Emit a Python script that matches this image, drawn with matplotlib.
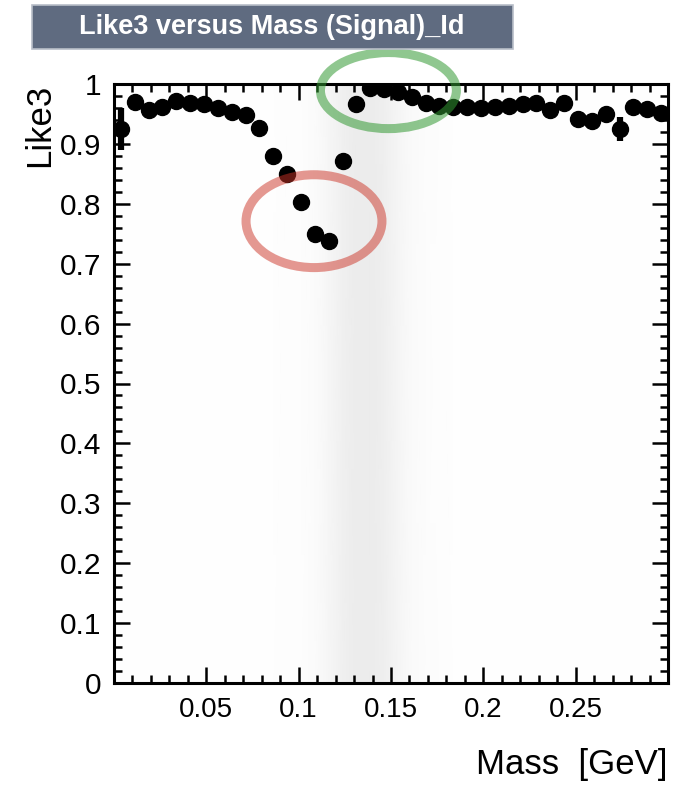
import numpy as np
import matplotlib
matplotlib.use("Agg")
import matplotlib.pyplot as plt
from matplotlib.colors import LinearSegmentedColormap
from matplotlib.patches import Ellipse, Rectangle

plt.rcParams["font.family"] = ["Liberation Sans", "DejaVu Sans"]

# profile binning: 40 mass bins between 0 and 0.3 GeV
n_bins = 40
mass_lo, mass_hi = 0.0, 0.3

# mean Like3 per mass bin (signal sample)
like3_mean = [
    0.925, 0.970, 0.957, 0.962, 0.972, 0.968, 0.966, 0.960, 0.953, 0.948,
    0.926, 0.880, 0.850, 0.803, 0.750, 0.738, 0.872, 0.967, 0.993, 0.992,
    0.986, 0.978, 0.968, 0.963, 0.961, 0.961, 0.960, 0.961, 0.963, 0.966,
    0.969, 0.957, 0.968, 0.942, 0.938, 0.950, 0.925, 0.962, 0.958, 0.952,
]
# error on the mean per bin
like3_err = [
    0.035, 0.010, 0.005, 0.005, 0.005, 0.005, 0.005, 0.005, 0.005, 0.005,
    0.005, 0.005, 0.005, 0.005, 0.005, 0.005, 0.004, 0.004, 0.004, 0.004,
    0.004, 0.004, 0.004, 0.004, 0.004, 0.004, 0.004, 0.004, 0.004, 0.004,
    0.004, 0.006, 0.006, 0.012, 0.012, 0.012, 0.020, 0.012, 0.012, 0.012,
]
# relative event density per mass bin for the scatter underlay
event_density = [
    0.04, 0.04, 0.04, 0.04, 0.04, 0.04, 0.04, 0.05, 0.05, 0.06,
    0.07, 0.08, 0.10, 0.12, 0.22, 0.45, 0.80, 1.00, 1.00, 0.85,
    0.50, 0.25, 0.14, 0.10, 0.08, 0.07, 0.07, 0.07, 0.07, 0.07,
    0.07, 0.07, 0.07, 0.07, 0.07, 0.07, 0.07, 0.07, 0.07, 0.07,
]

W, H = 698, 788
fig = plt.figure(figsize=(W / 100, H / 100), dpi=100)
ax = fig.add_axes([114 / W, 1 - 683 / H, (668 - 114) / W, (683 - 84) / H])

edges = np.linspace(mass_lo, mass_hi, n_bins + 1)
centers = 0.5 * (edges[:-1] + edges[1:])
half_bin = 0.5 * (edges[1] - edges[0])

# scatter underlay as a smooth grey density band
greys = LinearSegmentedColormap.from_list("greys", ["#ffffff", "#ececec"])
dens = np.array(event_density)
ax.pcolormesh(centers, [0.0, 1.0], np.vstack([dens, dens]),
              cmap=greys, vmin=0, vmax=1, shading="gouraud", zorder=0)

ax.errorbar(centers, like3_mean, xerr=half_bin, yerr=like3_err,
            fmt="o", color="black", ms=11.5, elinewidth=4.5, capsize=0,
            zorder=3)

ax.set_xlim(mass_lo, mass_hi)
ax.set_ylim(0, 1)
ax.set_xticks([0.05, 0.1, 0.15, 0.2, 0.25])
ax.set_xticklabels(["0.05", "0.1", "0.15", "0.2", "0.25"])
ax.set_xticks(np.arange(0.01, 0.3, 0.01), minor=True)
ax.set_yticks(np.arange(0, 1.01, 0.1))
ax.set_yticklabels(["0", "0.1", "0.2", "0.3", "0.4", "0.5",
                    "0.6", "0.7", "0.8", "0.9", "1"])
ax.set_yticks(np.arange(0, 1.001, 0.02), minor=True)

for s in ax.spines.values():
    s.set_linewidth(2.2)
ax.tick_params(which="both", direction="in", top=True, right=True, width=1.8)
ax.tick_params(which="major", length=11.5)
ax.tick_params(which="minor", length=5.5)
ax.tick_params(axis="x", pad=10, labelsize=20)
ax.tick_params(axis="y", pad=9, labelsize=21.5)

ax.set_xlabel("Mass  [GeV]", fontsize=25, loc="right")
ax.xaxis.set_label_coords(1.0, -0.108)
ax.set_ylabel("Like3", fontsize=25, loc="top")
ax.yaxis.set_label_coords(-0.104, 1.0)

# title box
fig.add_artist(Rectangle((32 / W, 1 - 49 / H), 481 / W, 44 / H,
                         transform=fig.transFigure, facecolor="#5f6b80",
                         edgecolor="#b8bec8", lw=1.2, zorder=5))
fig.text(272 / W, 1 - 27 / H, "Like3 versus Mass (Signal)_Id", color="white",
         fontsize=19.5, fontweight="bold", ha="center", va="center", zorder=6)

# highlight rings drawn over everything
ax.add_patch(Ellipse((0.1083, 0.771), 0.0736, 0.155, fill=False,
                     edgecolor=(0.80, 0.20, 0.15), alpha=0.5, lw=6.5,
                     clip_on=False, zorder=10))
ax.add_patch(Ellipse((0.1486, 0.989), 0.0736, 0.127, fill=False,
                     edgecolor=(0.20, 0.60, 0.20), alpha=0.55, lw=6.5,
                     clip_on=False, zorder=10))

fig.savefig("out.png", dpi=100)
